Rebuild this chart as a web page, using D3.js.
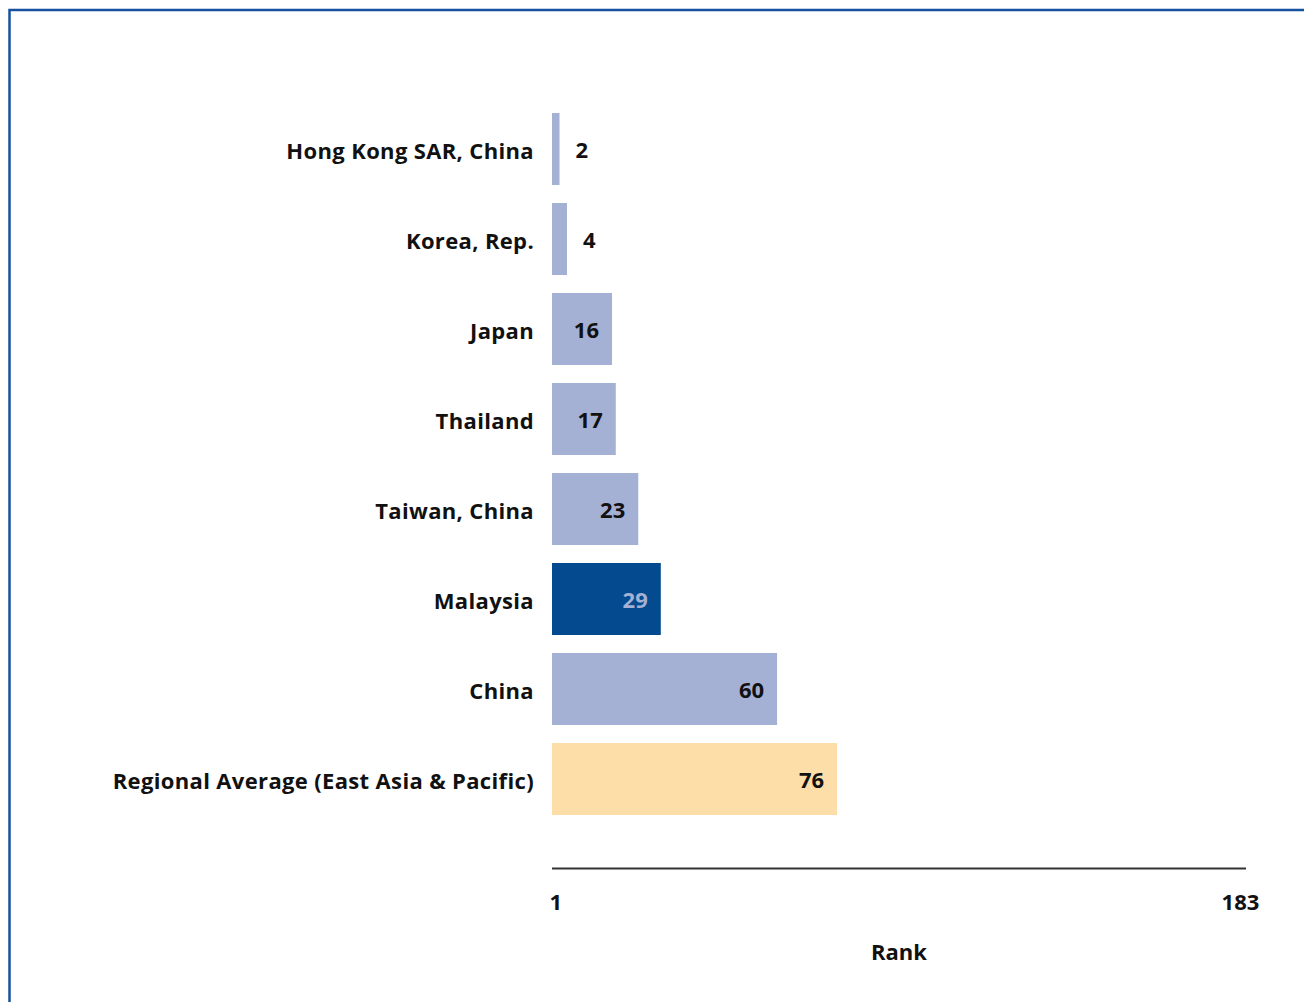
<!DOCTYPE html>
<html>
<head>
<meta charset="utf-8">
<script src="https://cdn.jsdelivr.net/npm/d3@7"></script>
<style>
  html, body { margin: 0; padding: 0; background: #fff; }
  svg { display: block; }
  text { font-family: "Open Sans", "DejaVu Sans", sans-serif; font-weight: 700; fill: #111; }
</style>
</head>
<body>
<svg id="chart" width="1304" height="1002"></svg>
<script>
const categories = [
  "Hong Kong SAR, China",
  "Korea, Rep.",
  "Japan",
  "Thailand",
  "Taiwan, China",
  "Malaysia",
  "China",
  "Regional Average (East Asia & Pacific)"
];
const ranks = [2, 4, 16, 17, 23, 29, 60, 76];
const highlight = "Malaysia";
const regional = "Regional Average (East Asia & Pacific)";
const tickValues = [1, 183];
const tickLabels = ["1", "183"];
const axisTitle = "Rank";

const svg = d3.select("#chart");

// frame
svg.append("path")
  .attr("d", "M9.5,1002 L9.5,10 L1304,10")
  .attr("fill", "none")
  .attr("stroke", "#1652a0")
  .attr("stroke-width", 2.5);

const x = d3.scaleLinear().domain([0, 185]).range([552, 1246]);
const y = d3.scaleBand().domain(categories).range([104, 824]).paddingInner(0.2).paddingOuter(0.1);

const data = categories.map((c, i) => ({ name: c, value: ranks[i] }));

const color = d => d.name === highlight ? "#034a8e" : (d.name === regional ? "#fddea8" : "#a4b0d4");

svg.append("g").selectAll("rect").data(data).join("rect")
  .attr("x", x(0))
  .attr("y", d => y(d.name))
  .attr("width", d => x(d.value) - x(0))
  .attr("height", y.bandwidth())
  .attr("fill", color);

// category labels
svg.append("g").selectAll("text").data(data).join("text")
  .attr("x", 534)
  .attr("y", d => y(d.name) + y.bandwidth() / 2 + 1)
  .attr("text-anchor", "end")
  .attr("dominant-baseline", "central")
  .style("font-size", "22px")
  .style("letter-spacing", "0.35px")
  .text(d => d.name);

// value labels
svg.append("g").selectAll("text").data(data).join("text")
  .attr("x", d => {
    const w = x(d.value) - x(0);
    return w < 40 ? x(d.value) + 16 : x(d.value) - 13;
  })
  .attr("y", d => y(d.name) + y.bandwidth() / 2)
  .attr("text-anchor", d => (x(d.value) - x(0)) < 40 ? "start" : "end")
  .attr("dominant-baseline", "central")
  .style("font-size", "22px")
  .style("fill", d => d.name === highlight ? "#a4b0d4" : "#111")
  .text(d => d.value);

// axis
const axisY = 868.5;
svg.append("line")
  .attr("x1", x.range()[0]).attr("x2", x.range()[1])
  .attr("y1", axisY).attr("y2", axisY)
  .attr("stroke", "#333").attr("stroke-width", 2);

svg.append("g").selectAll("text").data(tickValues).join("text")
  .attr("x", (d, i) => x(d) + (i === 0 ? 0 : 2))
  .attr("y", 901)
  .attr("text-anchor", "middle")
  .attr("dominant-baseline", "central")
  .style("font-size", "22px")
  .text((d, i) => tickLabels[i]);

svg.append("text")
  .attr("x", (x.range()[0] + x.range()[1]) / 2)
  .attr("y", 951)
  .attr("text-anchor", "middle")
  .attr("dominant-baseline", "central")
  .style("font-size", "22px")
  .text(axisTitle);
</script>
</body>
</html>
